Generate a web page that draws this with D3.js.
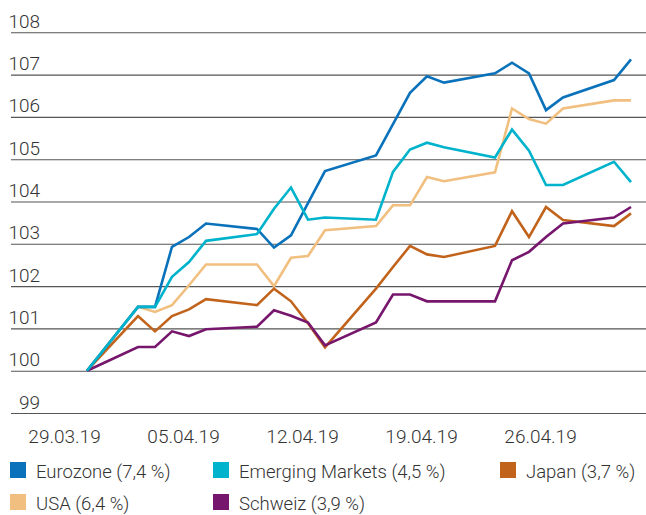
<!DOCTYPE html>
<html>
<head>
<meta charset="utf-8">
<script src="https://cdn.jsdelivr.net/npm/d3@7"></script>
<style>
  body { margin: 0; background: #fff; }
  svg text { font-family: Roboto, "Liberation Sans", sans-serif; font-weight: 300; fill: #333; }
</style>
</head>
<body>
<div class="container"></div>
<script>
const w = 646;
const h = 515;

// trading days shown in the chart
const dates = ['2019-03-29', '2019-04-01', '2019-04-02', '2019-04-03', '2019-04-04', '2019-04-05',
  '2019-04-08', '2019-04-09', '2019-04-10', '2019-04-11', '2019-04-12',
  '2019-04-15', '2019-04-16', '2019-04-17', '2019-04-18', '2019-04-19',
  '2019-04-22', '2019-04-23', '2019-04-24', '2019-04-25', '2019-04-26',
  '2019-04-29', '2019-04-30'];

const eurozone = [100, 101.51, 101.51, 102.93, 103.16, 103.48, 103.35, 102.91, 103.20, 103.96, 104.72,
  105.09, 105.83, 106.57, 106.96, 106.81, 107.03, 107.28, 107.03, 106.16, 106.46, 106.87, 107.36];
const emerging = [100, 101.51, 101.51, 102.22, 102.57, 103.07, 103.23, 103.83, 104.33, 103.57, 103.62,
  103.57, 104.70, 105.23, 105.39, 105.28, 105.04, 105.70, 105.20, 104.39, 104.39, 104.94, 104.46];
const japan = [100, 101.29, 100.93, 101.29, 101.45, 101.69, 101.55, 101.94, 101.64, 101.12, 100.55,
  101.94, 102.45, 102.95, 102.75, 102.69, 102.95, 103.77, 103.16, 103.87, 103.56, 103.42, 103.72];
const usa = [100, 101.51, 101.39, 101.55, 102.02, 102.51, 102.51, 102.00, 102.67, 102.71, 103.32,
  103.42, 103.91, 103.91, 104.58, 104.48, 104.69, 106.20, 105.95, 105.84, 106.20, 106.39, 106.39];
const schweiz = [100, 100.56, 100.56, 100.93, 100.82, 100.98, 101.04, 101.43, 101.30, 101.14, 100.60,
  101.14, 101.80, 101.80, 101.64, 101.64, 101.64, 102.61, 102.81, 103.16, 103.48, 103.62, 103.87];

const xTicks = ['2019-03-29', '2019-04-05', '2019-04-12', '2019-04-19', '2019-04-26'];
const yTicks = [99, 100, 101, 102, 103, 104, 105, 106, 107, 108];

const seriesNames = ['Eurozone (7,4 %)', 'Emerging Markets (4,5 %)', 'Japan (3,7 %)', 'USA (6,4 %)', 'Schweiz (3,9 %)'];
const seriesValues = [eurozone, emerging, japan, usa, schweiz];
const colors = ['#0a72ba', '#00b3cc', '#c1631b', '#f1bf7f', '#76166c'];
const drawOrder = [3, 2, 4, 0, 1];

const parse = d3.timeParse('%Y-%m-%d');
const days = dates.map(parse);

const svg = d3.select('.container').append('svg')
    .attr('width', w)
    .attr('height', h);

const x = d3.scaleTime()
    .domain(d3.extent(days))
    .range([87, 631]);

const y = d3.scaleLinear()
    .domain([99, 108])
    .range([413, 32.3]);

// horizontal grid + labels
const yAxis = d3.axisLeft(y)
    .tickValues(yTicks)
    .tickSize(635)
    .tickFormat(d3.format('d'));

svg.append('g')
    .attr('transform', `translate(${w}, 0)`)
    .call(yAxis)
    .call(g => g.select('.domain').remove())
    .call(g => g.selectAll('.tick line').attr('stroke', '#555').attr('stroke-width', 1.1))
    .call(g => g.selectAll('.tick text')
      .attr('x', 40 - w)
      .attr('dy', -5)
      .attr('text-anchor', 'end')
      .attr('font-size', 19)
      .style('font-family', 'Roboto, "Liberation Sans", sans-serif'));

const xAxis = d3.axisBottom(x)
    .tickValues(xTicks.map(parse))
    .tickSize(0)
    .tickFormat(d3.timeFormat('%d.%m.%y'));

svg.append('g')
    .attr('transform', 'translate(0, 429)')
    .call(xAxis)
    .call(g => g.select('.domain').remove())
    .call(g => g.selectAll('.tick text')
      .attr('y', 0)
      .attr('dy', 14)
      .attr('dx', -23)
      .attr('font-size', 19)
      .style('font-family', 'Roboto, "Liberation Sans", sans-serif'));

const line = d3.line()
    .x((d, i) => x(days[i]))
    .y(d => y(d));

svg.append('g')
  .selectAll('path')
  .data(drawOrder)
  .enter().append('path')
    .attr('d', i => line(seriesValues[i]))
    .attr('fill', 'none')
    .attr('stroke', i => colors[i])
    .attr('stroke-width', 2.6)
    .attr('stroke-linejoin', 'miter');

// legend
const legendCols = [10, 213, 500];
const legendRows = [462, 494];

const legend = svg.append('g')
  .selectAll('g')
  .data(seriesNames)
  .enter().append('g')
    .attr('transform', (d, i) => `translate(${legendCols[i % 3]}, ${legendRows[Math.floor(i / 3)]})`);

legend.append('rect')
    .attr('width', 16)
    .attr('height', 16)
    .attr('fill', (d, i) => colors[i]);

legend.append('text')
    .attr('x', 26)
    .attr('y', 16)
    .attr('font-size', 18.5)
    .text(d => d);
</script>
</body>
</html>
